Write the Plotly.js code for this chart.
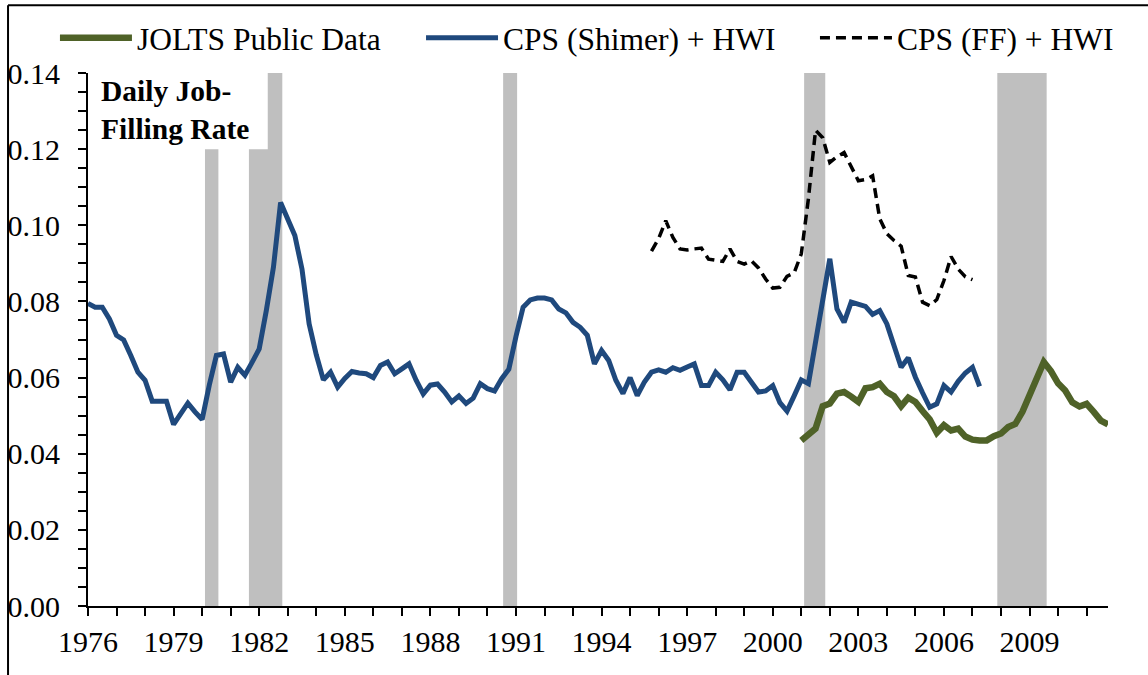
<!DOCTYPE html>
<html>
<head>
<meta charset="utf-8">
<script src="https://cdn.plot.ly/plotly-3.0.1.min.js"></script>
<style>html,body{margin:0;padding:0;background:#fff;}#chart{width:1148px;height:675px;}</style>
</head>
<body>
<div id="chart"></div>
<script>
// Quarterly series (start year/quarter + values)
const shimerStart = 1976.0;   // 1976Q1
const shimerValues = [
 0.0795,0.0785,0.0785,0.0754,0.0711,0.0699,0.0658,0.0614,0.0593,0.0538,
 0.0538,0.0538,0.0477,0.0505,0.0533,0.0510,0.0490,0.0580,0.0658,0.0662,
 0.0588,0.0627,0.0606,0.0640,0.0675,0.0776,0.0890,0.1060,0.1015,0.0973,
 0.0885,0.0741,0.0660,0.0594,0.0614,0.0575,0.0598,0.0616,0.0612,0.0610,
 0.0600,0.0632,0.0641,0.0610,0.0623,0.0636,0.0593,0.0557,0.0580,0.0583,
 0.0562,0.0536,0.0552,0.0532,0.0546,0.0584,0.0571,0.0565,0.0597,0.0622,
 0.0708,0.0785,0.0804,0.0809,0.0809,0.0804,0.0780,0.0770,0.0745,0.0732,
 0.0711,0.0636,0.0671,0.0645,0.0593,0.0558,0.0600,0.0553,0.0588,0.0614,
 0.0620,0.0614,0.0626,0.0619,0.0628,0.0636,0.0579,0.0579,0.0614,0.0594,
 0.0568,0.0614,0.0614,0.0588,0.0562,0.0565,0.0579,0.0534,0.0512,0.0552,
 0.0594,0.0584,0.0690,0.0790,0.0912,0.0780,0.0745,0.0798,0.0794,0.0787,
 0.0766,0.0776,0.0741,0.0680,0.0627,0.0652,0.0601,0.0560,0.0522,0.0531,
 0.0579,0.0562,0.0590,0.0612,0.0627,0.0577
];
const ffStart = 1995.75;      // 1995Q4
const ffValues = [
 0.0932,0.0965,0.1012,0.0968,0.0938,0.0935,0.0938,0.0940,0.0911,0.0907,
 0.0905,0.0938,0.0905,0.0898,0.0907,0.0888,0.0859,0.0835,0.0837,0.0866,
 0.0875,0.0925,0.1070,0.1250,0.1230,0.1165,0.1180,0.1191,0.1152,0.1117,
 0.1120,0.1130,0.1017,0.0978,0.0960,0.0945,0.0868,0.0864,0.0798,0.0789,
 0.0805,0.0855,0.0918,0.0885,0.0865,0.0857
];
const joltsStart = 2001.0;    // 2001Q1
const joltsValues = [
 0.0435,0.0450,0.0466,0.0525,0.0532,0.0558,0.0562,0.0550,0.0536,0.0572,
 0.0575,0.0584,0.0562,0.0551,0.0525,0.0547,0.0536,0.0512,0.0490,0.0455,
 0.0475,0.0461,0.0466,0.0445,0.0437,0.0435,0.0435,0.0446,0.0453,0.0470,
 0.0478,0.0510,0.0555,0.0600,0.0641,0.0617,0.0585,0.0566,0.0535,0.0524,
 0.0531,0.0510,0.0487,0.0477
];
const recessionStarts = [1980.10, 1981.64, 1990.55, 2001.10, 2007.87];
const recessionEnds   = [1980.57, 1982.81, 1991.04, 2001.84, 2009.60];
const seriesNames = ['JOLTS Public Data', 'CPS (Shimer) + HWI', 'CPS (FF) + HWI'];
const panelLabel = 'Daily Job-<br>Filling Rate';

function quarters(start, vals) { return vals.map((_, i) => start + i / 4); }

const FONT = 'Liberation Serif, Times New Roman, Times, serif';

const traces = [
  { x: quarters(joltsStart, joltsValues), y: joltsValues, name: seriesNames[0], type: 'scatter', mode: 'lines',
    line: { color: '#4F6228', width: 6.5 }, legend: 'legend' },
  { x: quarters(shimerStart, shimerValues), y: shimerValues, name: seriesNames[1], type: 'scatter', mode: 'lines',
    line: { color: '#1F497D', width: 5 }, legend: 'legend2' },
  { x: quarters(ffStart, ffValues), y: ffValues, name: seriesNames[2], type: 'scatter', mode: 'lines',
    line: { color: '#000000', width: 3.5, dash: '10px,6px' }, legend: 'legend3' }
];

const shapes = [];
for (let k = 0; k < recessionStarts.length; k++) {
  shapes.push({ type: 'rect', xref: 'x', yref: 'y', x0: recessionStarts[k], x1: recessionEnds[k], y0: 0, y1: 0.14,
    fillcolor: '#BFBFBF', line: { width: 0 }, layer: 'below' });
}
// white label box
shapes.push({ type: 'rect', xref: 'x', yref: 'y', x0: 1976.05, x1: 1982.30, y0: 0.12, y1: 0.141,
  fillcolor: '#FFFFFF', line: { width: 0 }, layer: 'below' });
// outer frame (left and top edges visible)
shapes.push({ type: 'line', xref: 'paper', yref: 'paper', x0: -0.0784, x1: -0.0784, y0: -0.135, y1: 1.1273,
  line: { color: '#000', width: 2 } });
shapes.push({ type: 'line', xref: 'paper', yref: 'paper', x0: -0.0784, x1: 1.05, y0: 1.1273, y1: 1.1273,
  line: { color: '#000', width: 2 } });

const legendBase = { orientation: 'h', yanchor: 'middle', y: 1.064, xanchor: 'left', bgcolor: 'rgba(0,0,0,0)',
  font: { family: FONT, size: 31.5, color: '#000' }, itemwidth: 72, borderwidth: 0 };

const layout = {
  width: 1148, height: 675,
  margin: { l: 88, r: 40, t: 72, b: 69 },
  paper_bgcolor: '#fff', plot_bgcolor: '#fff',
  font: { family: FONT, size: 30, color: '#000' },
  showlegend: true,
  legend: Object.assign({}, legendBase, { x: -0.0324 }),
  legend2: Object.assign({}, legendBase, { x: 0.3265 }),
  legend3: Object.assign({}, legendBase, { x: 0.7127 }),
  xaxis: {
    range: [1976, 2011.75], tickmode: 'linear', tick0: 1976, dtick: 3,
    ticks: 'outside', ticklen: 8, tickwidth: 2, tickcolor: '#000',
    minor: { tick0: 1976, dtick: 1, ticks: 'outside', ticklen: 8, tickwidth: 2, tickcolor: '#000' },
    showline: true, linecolor: '#000', linewidth: 2, showgrid: false, zeroline: false,
    tickfont: { family: FONT, size: 30, color: '#000' }
  },
  yaxis: {
    range: [0, 0.14], tickmode: 'linear', tick0: 0, dtick: 0.02, tickformat: '.2f',
    ticks: 'outside', ticklen: 8, tickwidth: 2, tickcolor: '#000', ticklabelstandoff: 12,
    minor: { dtick: 0.005, ticks: 'outside', ticklen: 8, tickwidth: 2, tickcolor: '#000' },
    showline: true, linecolor: '#000', linewidth: 2, showgrid: false, zeroline: false,
    tickfont: { family: FONT, size: 30, color: '#000' }
  },
  shapes: shapes,
  annotations: [
    { text: '<b>' + panelLabel + '</b>', xref: 'paper', yref: 'paper', x: 0.0108, y: 1.0,
      xanchor: 'left', yanchor: 'top', align: 'left', showarrow: false,
      font: { family: FONT, size: 29.5, color: '#000' } }
  ]
};

Plotly.newPlot('chart', traces, layout, { displayModeBar: false, staticPlot: true });
</script>
</body>
</html>
